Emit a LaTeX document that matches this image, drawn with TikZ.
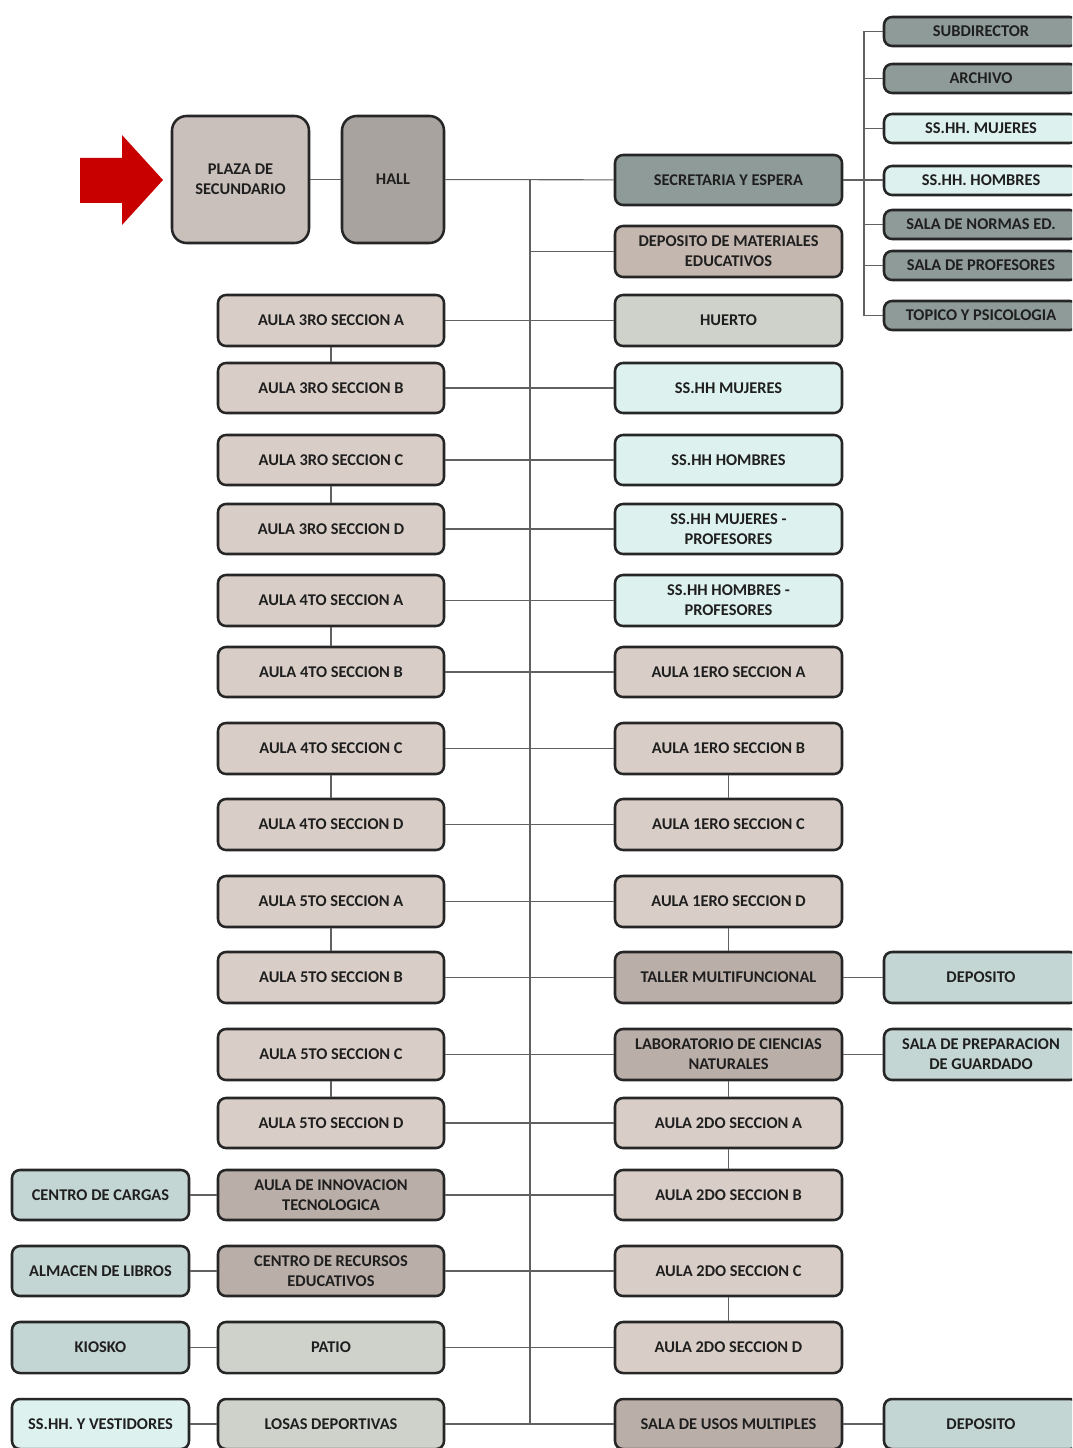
\documentclass[tikz,border=0pt]{standalone}
\usepackage{fontspec}
\setmainfont{Carlito}
\definecolor{tanL}{HTML}{D9CEC7}
\definecolor{tanD}{HTML}{BAAEA8}
\definecolor{tanM}{HTML}{C4B7AF}
\definecolor{grayG}{HTML}{8F9B99}
\definecolor{huerto}{HTML}{CED2CB}
\definecolor{cyanL}{HTML}{DDF1EE}
\definecolor{blueG}{HTML}{C4D6D3}
\definecolor{plaza}{HTML}{C9C0BC}
\definecolor{hallc}{HTML}{A9A39F}
\definecolor{arrowred}{HTML}{C80000}
\tikzset{
  box/.style={draw=black!85, line width=1.9pt, rounded corners=6pt,
    font=\bfseries\fontsize{12.3}{15}\selectfont, text=black!88, align=center, inner sep=0pt},
  bigbox/.style={box, rounded corners=11pt},
  conn/.style={draw=black!62, line width=0.8pt}
}
\newcommand\mybox[7]{\node[box,fill=#6,minimum width={(#4-#2)*0.75pt},minimum height={(#5-#3)*0.75pt}] (#1) at ({(#2+#4)/2},{(#3+#5)/2}) {#7};}
\begin{document}
\begin{tikzpicture}[x=0.75pt,y=-0.75pt]
\useasboundingbox (0,0) rectangle (1072,1448);
\begin{scope}
\clip (0,0) rectangle (1072,1448);
\fill[white] (0,0) rectangle (1072,1448);

% red arrow
\fill[arrowred] (80,158) -- (122,158) -- (122,135) -- (163,180) -- (122,225) -- (122,203) -- (80,203) -- cycle;

% top boxes
\node[bigbox,fill=plaza,minimum width={137*0.75pt},minimum height={127*0.75pt}] (plaza) at (240.5,179.5) {PLAZA DE\\SECUNDARIO};
\node[bigbox,fill=hallc,minimum width={102*0.75pt},minimum height={127*0.75pt}] (hall) at (393,179.5) {HALL};

% right column
\mybox{sec}{615}{155}{842}{205}{grayG}{SECRETARIA Y ESPERA}
\mybox{depm}{615}{226}{842}{277}{tanM}{DEPOSITO DE MATERIALES\\EDUCATIVOS}
\mybox{huerto}{615}{295}{842}{346}{huerto}{HUERTO}
\mybox{hm}{615}{363}{842}{413}{cyanL}{SS.HH MUJERES}
\mybox{hh}{615}{435}{842}{485}{cyanL}{SS.HH HOMBRES}
\mybox{hmp}{615}{504}{842}{554}{cyanL}{SS.HH MUJERES -\\PROFESORES}
\mybox{hhp}{615}{575}{842}{626}{cyanL}{SS.HH HOMBRES -\\PROFESORES}
\mybox{pa}{615}{647}{842}{697}{tanL}{AULA 1ERO SECCION A}
\mybox{pb}{615}{723}{842}{774}{tanL}{AULA 1ERO SECCION B}
\mybox{pc}{615}{799}{842}{850}{tanL}{AULA 1ERO SECCION C}
\mybox{pd}{615}{876}{842}{927}{tanL}{AULA 1ERO SECCION D}
\mybox{taller}{615}{952}{842}{1003}{tanD}{TALLER MULTIFUNCIONAL}
\mybox{lab}{615}{1029}{842}{1080}{tanD}{LABORATORIO DE CIENCIAS\\NATURALES}
\mybox{sa}{615}{1098}{842}{1148}{tanL}{AULA 2DO SECCION A}
\mybox{sb}{615}{1170}{842}{1220}{tanL}{AULA 2DO SECCION B}
\mybox{sc}{615}{1246}{842}{1296}{tanL}{AULA 2DO SECCION C}
\mybox{sd}{615}{1322}{842}{1373}{tanL}{AULA 2DO SECCION D}
\mybox{sum}{615}{1399}{842}{1449}{tanD}{SALA DE USOS MULTIPLES}

% far right column
\mybox{subd}{884}{17}{1078}{46}{grayG}{SUBDIRECTOR}
\mybox{arch}{884}{64}{1078}{93}{grayG}{ARCHIVO}
\mybox{fmuj}{884}{114}{1078}{143}{cyanL}{SS.HH. MUJERES}
\mybox{fhom}{884}{166}{1078}{195}{cyanL}{SS.HH. HOMBRES}
\mybox{norm}{884}{210}{1078}{239}{grayG}{SALA DE NORMAS ED.}
\mybox{prof}{884}{251}{1078}{280}{grayG}{SALA DE PROFESORES}
\mybox{topi}{884}{301}{1078}{330}{grayG}{TOPICO Y PSICOLOGIA}
\mybox{dep1}{884}{952}{1078}{1003}{blueG}{DEPOSITO}
\mybox{prep}{884}{1029}{1078}{1080}{blueG}{SALA DE PREPARACION\\DE GUARDADO}
\mybox{dep2}{884}{1399}{1078}{1449}{blueG}{DEPOSITO}

% left column
\mybox{ta}{218}{295}{444}{346}{tanL}{AULA 3RO SECCION A}
\mybox{tb}{218}{363}{444}{413}{tanL}{AULA 3RO SECCION B}
\mybox{tc}{218}{435}{444}{485}{tanL}{AULA 3RO SECCION C}
\mybox{td}{218}{504}{444}{554}{tanL}{AULA 3RO SECCION D}
\mybox{ca}{218}{575}{444}{626}{tanL}{AULA 4TO SECCION A}
\mybox{cb}{218}{647}{444}{697}{tanL}{AULA 4TO SECCION B}
\mybox{cc}{218}{723}{444}{774}{tanL}{AULA 4TO SECCION C}
\mybox{cd}{218}{799}{444}{850}{tanL}{AULA 4TO SECCION D}
\mybox{qa}{218}{876}{444}{927}{tanL}{AULA 5TO SECCION A}
\mybox{qb}{218}{952}{444}{1003}{tanL}{AULA 5TO SECCION B}
\mybox{qc}{218}{1029}{444}{1080}{tanL}{AULA 5TO SECCION C}
\mybox{qd}{218}{1098}{444}{1148}{tanL}{AULA 5TO SECCION D}
\mybox{innov}{218}{1170}{444}{1220}{tanD}{AULA DE INNOVACION\\TECNOLOGICA}
\mybox{cre}{218}{1246}{444}{1296}{tanD}{CENTRO DE RECURSOS\\EDUCATIVOS}
\mybox{patio}{218}{1322}{444}{1373}{huerto}{PATIO}
\mybox{losas}{218}{1399}{444}{1449}{huerto}{LOSAS DEPORTIVAS}

% far left column
\mybox{carg}{12}{1170}{189}{1220}{blueG}{CENTRO DE CARGAS}
\mybox{alm}{12}{1246}{189}{1296}{blueG}{ALMACEN DE LIBROS}
\mybox{kio}{12}{1322}{189}{1373}{blueG}{KIOSKO}
\mybox{vest}{12}{1399}{189}{1449}{cyanL}{SS.HH. Y VESTIDORES}

% connectors
\coordinate (mainT) at (530,180);
\coordinate (mainB) at (530,1424);
\coordinate (busT) at (864,31.5);
\coordinate (busB) at (864,315.5);
\draw[conn] (mainT) -- (mainB);
\draw[conn] (busT) -- (busB);
\draw[conn] (plaza) -- (hall);
\draw[conn] (hall) -- (sec);
\draw[conn] (depm.west) -- (depm.west -| mainT);
\draw[conn] (ta) -- (huerto);
\draw[conn] (tb) -- (hm);
\draw[conn] (tc) -- (hh);
\draw[conn] (td) -- (hmp);
\draw[conn] (ca) -- (hhp);
\draw[conn] (cb) -- (pa);
\draw[conn] (cc) -- (pb);
\draw[conn] (cd) -- (pc);
\draw[conn] (qa) -- (pd);
\draw[conn] (qb) -- (taller);
\draw[conn] (qc) -- (lab);
\draw[conn] (qd) -- (sa);
\draw[conn] (innov) -- (sb);
\draw[conn] (cre) -- (sc);
\draw[conn] (patio) -- (sd);
\draw[conn] (losas) -- (sum);
\draw[conn] (carg) -- (innov);
\draw[conn] (alm) -- (cre);
\draw[conn] (kio) -- (patio);
\draw[conn] (vest) -- (losas);
\draw[conn] (sec.east) -- (sec.east -| fhom.west);
\foreach \n in {subd,arch,fmuj,norm,prof,topi} {\draw[conn] (\n.west) -- (\n.west -| busT);}
\draw[conn] (taller) -- (dep1);
\draw[conn] (lab) -- (prep);
\draw[conn] (sum.east) -- (sum.east -| dep2.west);
% vertical pairs
\foreach \a/\b in {ta/tb,tc/td,ca/cb,cc/cd,qa/qb,qc/qd,pb/pc,pd/taller,lab/sa,sa/sb,sc/sd} {\draw[conn] (\a.south) -- (\b.north);}
\end{scope}
\end{tikzpicture}
\end{document}
